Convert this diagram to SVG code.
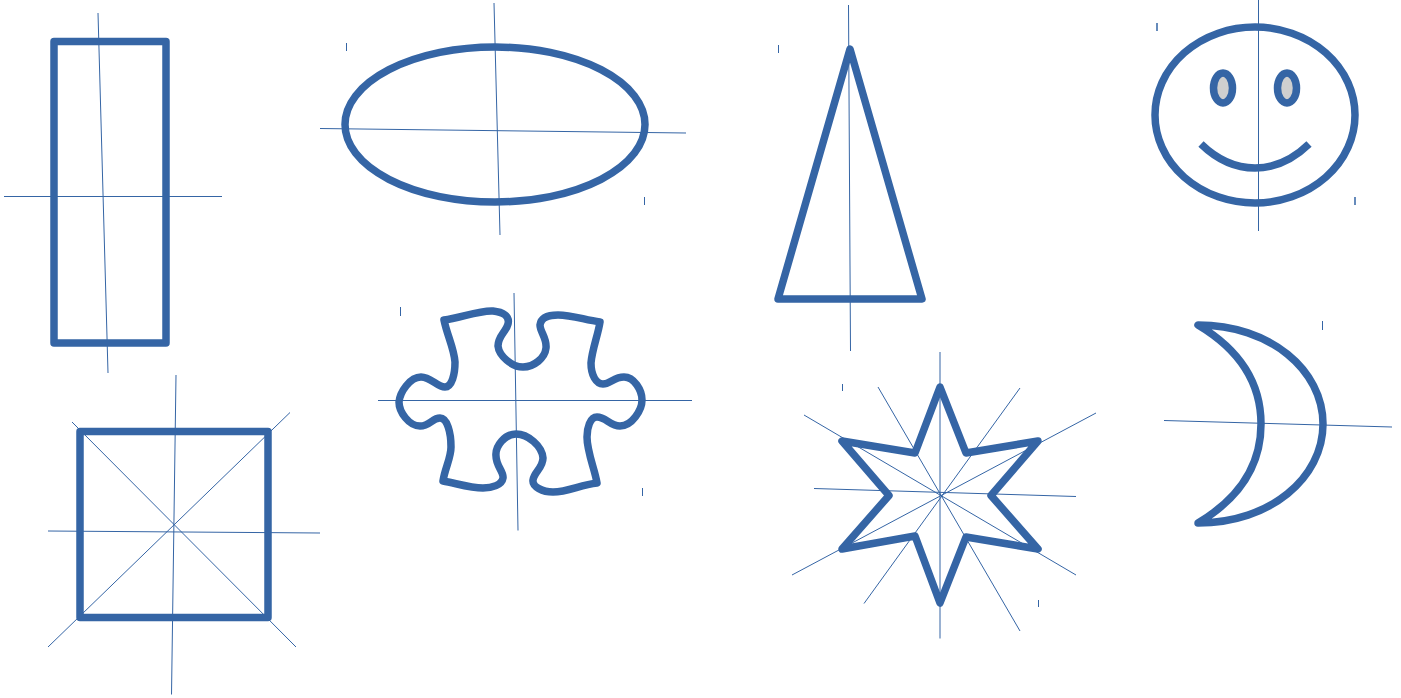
<svg xmlns="http://www.w3.org/2000/svg" width="1401" height="698" viewBox="0 0 1401 698">
<style>
.s{fill:none;stroke:#3565a5;stroke-width:7.5;stroke-linejoin:round;stroke-linecap:round}
.l{fill:none;stroke:#3565a5;stroke-width:1}
.t{fill:none;stroke:#3565a5;stroke-width:1.5}
</style>
<rect width="1401" height="698" fill="#fff"/>
<g id="connectors">
<path class="l" d="M98 13L108 373M4 196.500H222"/>
<path class="l" d="M494 3L500 235M320 128.500L686 133M346.500 43V51M644.500 197V205"/>
<path class="l" d="M848.500 5L850.500 351M778.500 45V53"/>
<path class="l" d="M1258.500 0V231"/>
<path class="t" d="M1157 23V31M1355 197V205"/>
<path class="l" d="M514 293L518 530.500M378 400.500H692M400.500 307V316M642.500 488V496"/>
<path class="l" d="M176 375L171.500 694.500M48 531L320 533M72 422L296 647M290 412.500L48 647"/>
<path class="l" d="M940 352V638.500M814 488.500L1076 496.500M804 415L1076 575M1096 413L792 575M878 387L1020 631M1020 388L864 603.500M842.500 384V391M1038.500 600V607"/>
<path class="l" d="M1164 420.500L1392 427M1322.500 321V330"/>
</g>
<g id="rectangle"><rect class="s" x="54" y="41.500" width="112" height="301.500"/></g>
<g id="ellipse"><ellipse class="s" cx="495" cy="124.500" rx="150" ry="77.500"/></g>
<g id="triangle"><path class="s" d="M850 49L922 299H778Z"/></g>
<g id="smiley">
<ellipse class="s" cx="1255" cy="115" rx="100" ry="88"/>
<ellipse cx="1223" cy="88" rx="9.500" ry="15" fill="#cfcfcf" stroke="#3565a5" stroke-width="7.500"/>
<ellipse cx="1287" cy="88" rx="9.500" ry="15" fill="#cfcfcf" stroke="#3565a5" stroke-width="7.500"/>
<path class="s" style="stroke-linecap:butt" d="M1201 144C1234 176 1276 176 1309 144"/>
</g>
<g id="puzzle"><path class="s" d="M444 320C460 318 480 310 493 311C503 312 510 316 508 324C506 332 498 336 498 346C499 356 512 367 523 367C534 367 545 358 546 348C547 338 540 332 540 325C541 317 549 315 558 315C572 315 585 320 600 322C598 335 592 350 591 363C591 375 596 384 603 384C610 384 614 377 624 377C634 377 642 390 642 400C642 410 632 426 620 426C610 426 606 417 597 417C590 417 587 428 587 437C587 452 595 470 597 483C580 485 568 492 553 492C543 492 532 487 533 480C534 472 543 468 543 458C542 446 528 434 516 434C505 434 495 446 496 456C496 466 504 472 503 478C502 485 492 488 483 488C470 488 455 483 443 481C445 468 451 458 451 447C451 432 447 418 440 418C432 418 430 426 420 426C409 426 399 412 399 402C400 392 410 377 421 377C431 377 437 387 445 387C452 387 455 374 455 362C454 348 447 335 444 320Z"/></g>
<g id="square"><rect class="s" x="80" y="431.500" width="188" height="186"/></g>
<g id="star"><path class="s" d="M940 387L966 453L1038 441L991 495.500L1038 549L966 537L940 603L915 536L842 549L889 495.500L842 441L915 453Z"/></g>
<g id="moon"><path class="s" d="M1198 325C1270 325 1323 370 1323 424C1323 478 1270 523 1198 523C1240 498 1261 465 1261 424C1261 383 1240 350 1198 325Z"/></g>
</svg>
